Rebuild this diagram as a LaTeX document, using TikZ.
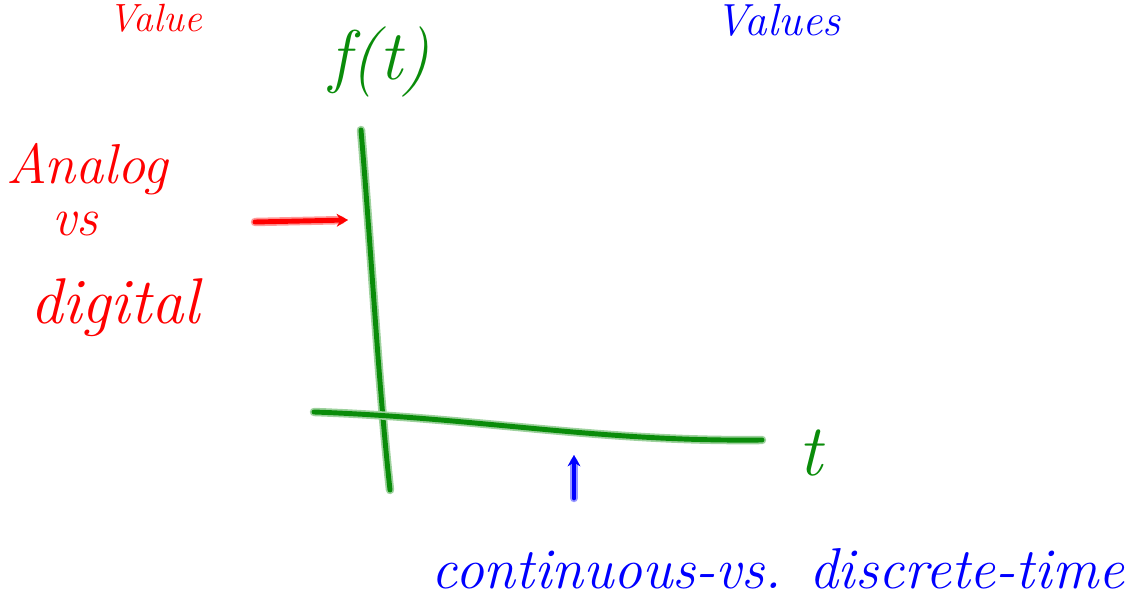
\documentclass[tikz,border=0pt]{standalone}
\usepackage{tikz}
\usetikzlibrary{arrows.meta,positioning,calc}
\definecolor{inkred}  {RGB}{255,0,0}
\definecolor{inkblue} {RGB}{0,0,255}
\definecolor{inkgreen}{RGB}{10,140,10}
\tikzset{
  ink/.style    ={draw=#1, line width=3.5pt, line cap=round, line join=round,
                  preaction={draw=#1!40, line width=6pt, line cap=round, line join=round}},
  note/.style   ={text=#1, inner sep=0pt, font=\itshape},
  arr/.style    ={-{Stealth[length=8pt,width=9pt]}},
}
\begin{document}
\begin{tikzpicture}[x=0.025cm,y=-0.025cm]
  \useasboundingbox (0,0) rectangle (1133,616);
  %% headings at the top
  \node[note=inkred, anchor=base, font=\itshape\fontsize{28}{30}\selectfont] (valueR) at (155,32) {Value};
  \node[note=inkblue, anchor=base, font=\itshape\fontsize{32}{34}\selectfont] (valuesB) at (778,36) {Values};
  %% left notes
  \node[note=inkred, anchor=base, font=\itshape\fontsize{40}{42}\selectfont] (analog) at (87,184) {Analog};
  \node[note=inkred, anchor=base, font=\itshape\fontsize{38}{40}\selectfont] (vs) at (75,236) {vs};
  \node[note=inkred, anchor=base, font=\itshape\fontsize{46}{48}\selectfont] (digital) at (115,324) {digital};
  %% axes
  \coordinate (ytop) at (361,130);
  \coordinate (ybot) at (390,490);
  \coordinate (xleft) at (314,412);
  \coordinate (xright) at (762,440);
  \draw[ink=inkgreen] (ytop) .. controls (372,260) and (378,380) .. (ybot);
  \draw[ink=inkgreen] (xleft) .. controls (480,418) and (600,442) .. (xright);
  \node[note=inkgreen, anchor=base, font=\itshape\fontsize{50}{52}\selectfont] (ft) at (380,80) {f(t)};
  \node[note=inkgreen, anchor=base, font=\itshape\fontsize{52}{54}\selectfont] (tlab) at (810,476) {t};
  %% pointers
  \coordinate (arrtail) at (255,222);
  \coordinate (arrhead) at (348,220);
  \draw[ink=inkred, arr] (arrtail) -- (arrhead);
  \coordinate (ticktail) at (574,498);
  \coordinate (tickhead) at (574,455);
  \draw[ink=inkblue, arr] (ticktail) -- (tickhead);
  %% bottom note
  \node[note=inkblue, anchor=base, font=\itshape\fontsize{41}{44}\selectfont] (cvd) at (778,588) {continuous-vs. discrete-time};
\end{tikzpicture}
\end{document}
